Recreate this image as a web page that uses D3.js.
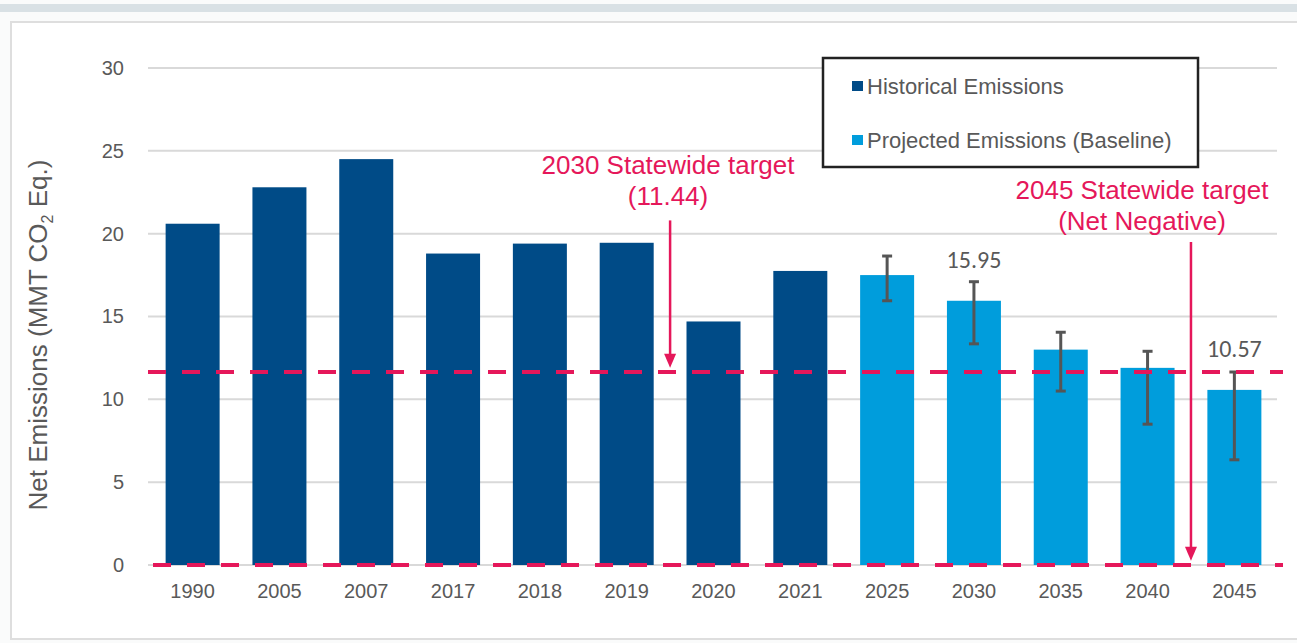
<!DOCTYPE html>
<html>
<head>
<meta charset="utf-8">
<script src="https://cdn.jsdelivr.net/npm/d3@7"></script>
<style>
  html, body { margin: 0; padding: 0; background: #fafbfb; }
  svg { display: block; font-family: Arial, "Liberation Sans", sans-serif; }
</style>
</head>
<body>
<div id="chart"></div>
<script>
const years = ["1990", "2005", "2007", "2017", "2018", "2019", "2020", "2021", "2025", "2030", "2035", "2040", "2045"]
const emissions = [20.6, 22.8, 24.5, 18.8, 19.4, 19.45, 14.7, 17.75, 17.5, 15.95, 13.0, 11.9, 10.57]
const projected = [false, false, false, false, false, false, false, false, true, true, true, true, true]
const errLow = [null, null, null, null, null, null, null, null, 15.95, 13.35, 10.5, 8.5, 6.35]
const errHigh = [null, null, null, null, null, null, null, null, 18.65, 17.1, 14.05, 12.9, 11.65]
const yTicks = [0, 5, 10, 15, 20, 25, 30]
const valueLabels = [{ year: "2030", value: 15.95, text: "15.95" }, { year: "2045", value: 10.57, text: "10.57" }]
const targetLine = 11.65 // where the dashed 2030 target line sits
const targets = [
  { lines: ["2030 Statewide target", "(11.44)"], textX: 668, top: 174, arrowX: "2030target", from: 20.8, to: targetLine + 0.25 },
  { lines: ["2045 Statewide target", "(Net Negative)"], textX: 1142, top: 199, arrowX: "2045target", from: 19.5, to: 0.25 }
]
const legendItems = [
  { label: "Historical Emissions", color: "#004b87" },
  { label: "Projected Emissions (Baseline)", color: "#009ddc" }
]

const width = 1297, height = 643
const darkBlue = "#004b87", lightBlue = "#009ddc", red = "#e5175a", grey = "#595959"
const font = "Arial, 'Liberation Sans', sans-serif"

const svg = d3.select("#chart").append("svg")
  .attr("width", width).attr("height", height)
  .attr("viewBox", [0, 0, width, height])

// frame
svg.append("rect").attr("x", 0).attr("y", 4).attr("width", width).attr("height", 8).attr("fill", "#d9e1e5")
svg.append("rect").attr("x", 11).attr("y", 22).attr("width", width).attr("height", 617)
  .attr("fill", "#fff").attr("stroke", "#dedede").attr("stroke-width", 2)

const x = d3.scaleBand().domain(years).range([150, 1277]).paddingInner(0.378).paddingOuter(0.18)
const y = d3.scaleLinear().domain([0, 30]).range([565, 68])

// gridlines + y labels
const yAxis = d3.axisLeft(y).tickValues(yTicks).tickSize(0).tickPadding(0)
svg.append("g")
  .attr("transform", "translate(124,0)")
  .call(yAxis)
  .call(g => g.select(".domain").remove())
  .call(g => g.selectAll(".tick text").attr("fill", grey).attr("font-size", 20).attr("font-family", font))
svg.append("g").selectAll("line").data(yTicks).join("line")
  .attr("x1", 148).attr("x2", 1277)
  .attr("y1", d => y(d)).attr("y2", d => y(d))
  .attr("stroke", "#d9d9d9").attr("stroke-width", 2)

// x labels
const xAxis = d3.axisBottom(x).tickSize(0).tickPadding(19)
svg.append("g")
  .attr("transform", `translate(0,${y(0)})`)
  .call(xAxis)
  .call(g => g.select(".domain").remove())
  .call(g => g.selectAll(".tick text").attr("fill", grey).attr("font-size", 20).attr("font-family", font))

// bars
svg.append("g").selectAll("rect").data(years).join("rect")
  .attr("x", d => x(d))
  .attr("width", x.bandwidth())
  .attr("y", (d, i) => y(emissions[i]))
  .attr("height", (d, i) => y(0) - y(emissions[i]))
  .attr("fill", (d, i) => projected[i] ? lightBlue : darkBlue)

// error bars
const eb = svg.append("g").attr("stroke", "#555").attr("stroke-width", 3)
years.forEach((yr, i) => {
  if (errLow[i] == null) return
  const cx = x(yr) + x.bandwidth() / 2
  eb.append("line").attr("x1", cx).attr("x2", cx).attr("y1", y(errLow[i])).attr("y2", y(errHigh[i]))
  eb.append("line").attr("x1", cx - 5).attr("x2", cx + 5).attr("y1", y(errLow[i])).attr("y2", y(errLow[i]))
  eb.append("line").attr("x1", cx - 5).attr("x2", cx + 5).attr("y1", y(errHigh[i])).attr("y2", y(errHigh[i]))
})

// value labels
svg.append("g").selectAll("text").data(valueLabels).join("text")
  .attr("x", d => x(d.year) + x.bandwidth() / 2)
  .attr("y", d => y(d.value) - 33)
  .attr("text-anchor", "middle").attr("font-size", 24).attr("fill", grey)
  .attr("font-family", "Carlito, Calibri, 'Open Sans', sans-serif")
  .text(d => d.text)

// dashed target lines
svg.append("line").attr("x1", 148).attr("x2", 1283).attr("y1", y(targetLine)).attr("y2", y(targetLine))
  .attr("stroke", red).attr("stroke-width", 4).attr("stroke-dasharray", "18,16")
svg.append("line").attr("x1", 153).attr("x2", 1283).attr("y1", y(0)).attr("y2", y(0))
  .attr("stroke", red).attr("stroke-width", 4).attr("stroke-dasharray", "18,16")

// target annotations
const arrowXs = { "2030target": (x("2019") + x("2020") + x.bandwidth()) / 2, "2045target": (x("2040") + x("2045") + x.bandwidth()) / 2 }
targets.forEach(t => {
  const ax = arrowXs[t.arrowX]
  const tipY = y(t.to)
  svg.append("line").attr("x1", ax).attr("x2", ax).attr("y1", y(t.from)).attr("y2", tipY - 10)
    .attr("stroke", red).attr("stroke-width", 2.5)
  svg.append("path").attr("d", `M${ax - 6},${tipY - 14}L${ax + 6},${tipY - 14}L${ax},${tipY}Z`).attr("fill", red)
  const txt = svg.append("text").attr("x", t.textX).attr("text-anchor", "middle")
    .attr("font-size", 26).attr("fill", red)
  txt.selectAll("tspan").data(t.lines).join("tspan")
    .attr("x", t.textX)
    .attr("y", (d, i) => t.top + i * 31)
    .text(d => d)
})

// legend
const lg = svg.append("g")
lg.append("rect").attr("x", 823).attr("y", 58).attr("width", 375).attr("height", 109)
  .attr("fill", "#fff").attr("stroke", "#222").attr("stroke-width", 2.5)
legendItems.forEach((d, i) => {
  const ly = 86 + i * 54
  lg.append("rect").attr("x", 852).attr("y", ly - 5).attr("width", 11).attr("height", 10).attr("fill", d.color)
  lg.append("text").attr("x", 867).attr("y", ly).attr("dy", "0.35em")
    .attr("font-size", 22).attr("fill", grey).text(d.label)
})

// y axis title
const yt = svg.append("text")
  .attr("transform", "translate(47,335) rotate(-90)")
  .attr("text-anchor", "middle").attr("font-size", 26).attr("fill", grey)
yt.append("tspan").text("Net Emissions (MMT CO")
yt.append("tspan").attr("font-size", 16).attr("dy", 6).text("2")
yt.append("tspan").attr("dy", -6).text(" Eq.)")
</script>
</body>
</html>
